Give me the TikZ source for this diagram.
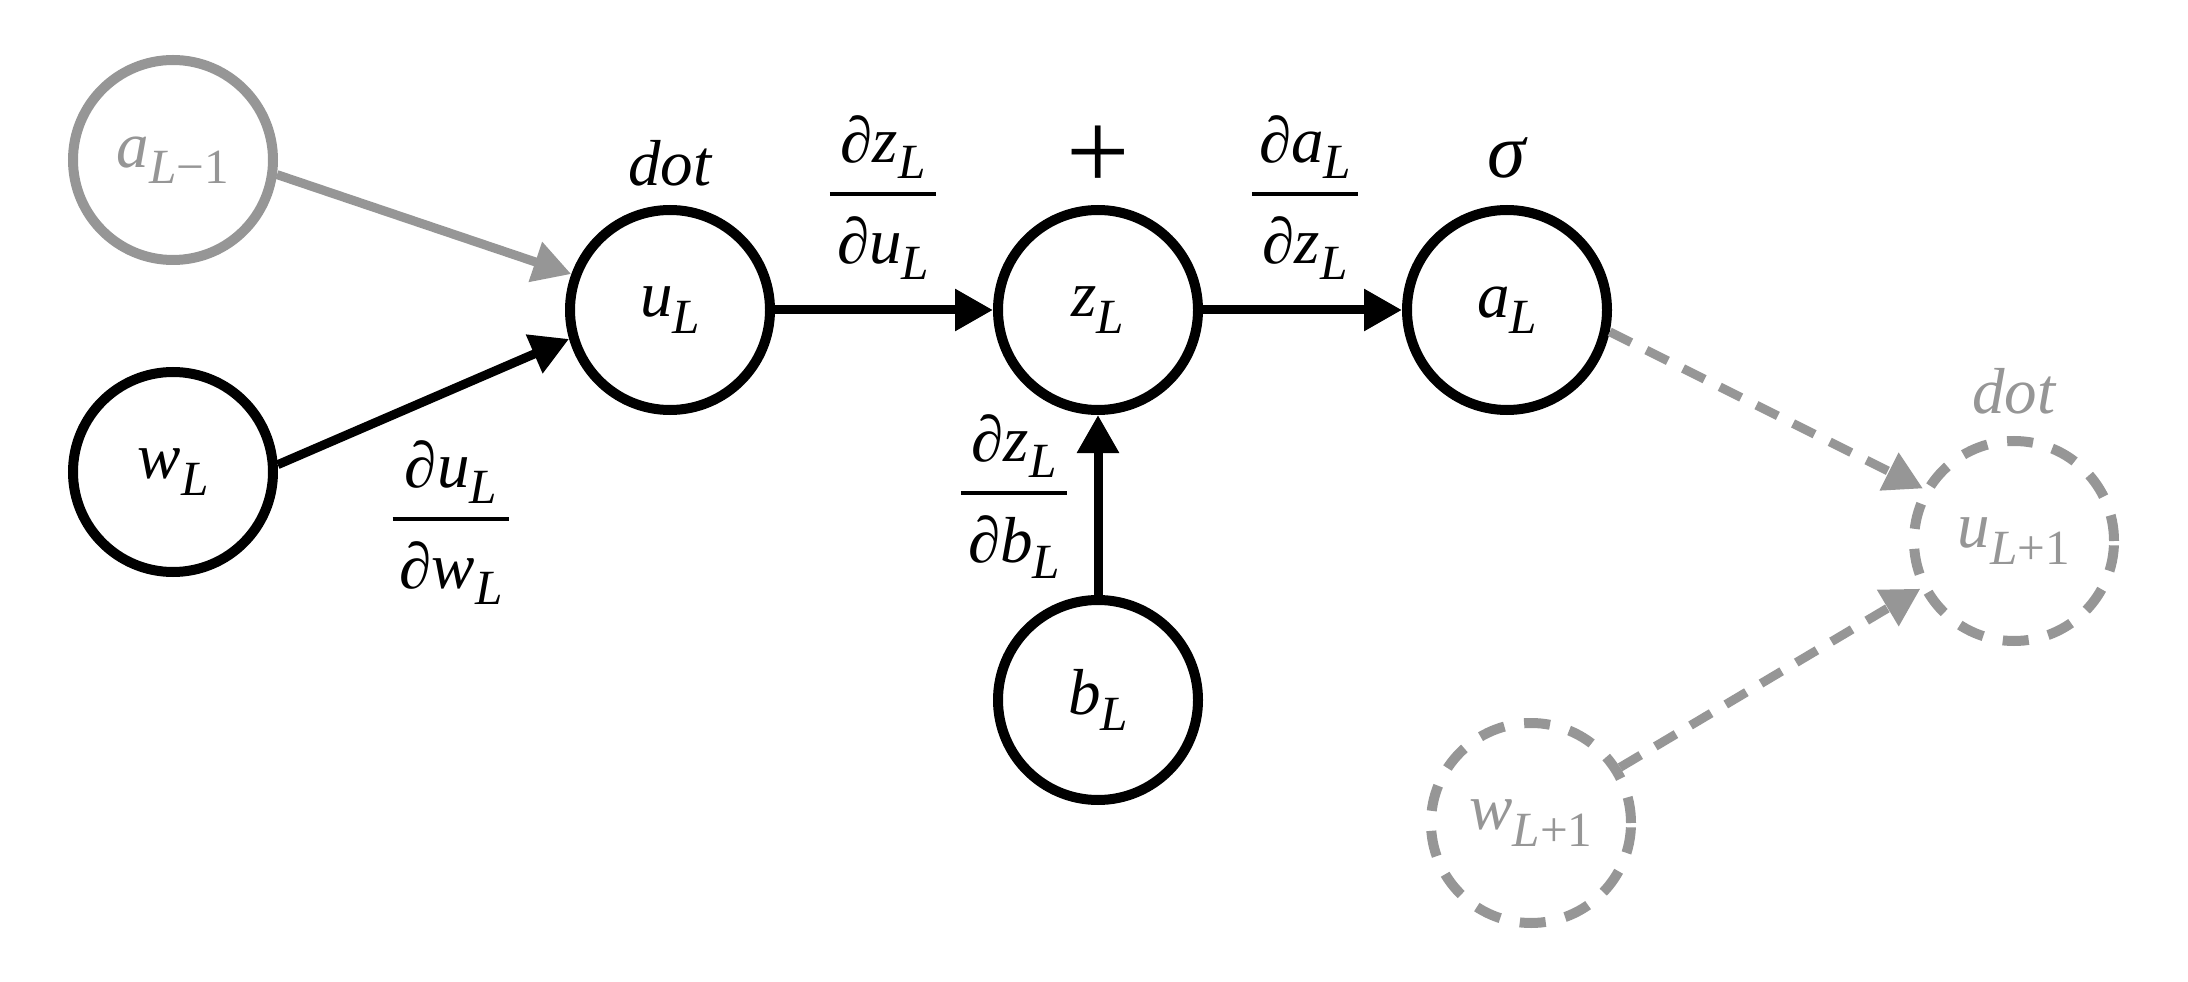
\documentclass[tikz,border=0pt]{standalone}
\usepackage{fontspec}
\setmainfont{Liberation Serif}
\usetikzlibrary{arrows.meta}
\definecolor{ghost}{RGB}{150,150,150}
\newcommand{\vsub}[2]{\textit{#1}\raisebox{-0.25em}{\fontsize{14}{16}\selectfont#2}}
\newcommand{\pfrac}[2]{{\setlength{\arrayrulewidth}{1.3pt}%
\begin{tabular}{@{\hspace{2pt}}c@{\hspace{2pt}}}#1\\[2pt]\hline\rule{0pt}{19pt}#2\end{tabular}}}
\begin{document}
\begin{tikzpicture}[
  var/.style={circle, draw, line width=0.1cm, minimum size=2cm, inner sep=0pt, font=\fontsize{18.5}{21}\selectfont},
  ghostvar/.style={var, draw=ghost, text=ghost},
  ghostdash/.style={ghostvar, dash pattern=on 0.26cm off 0.2cm},
  oplabel/.style={font=\fontsize{18.5}{21}\selectfont\itshape},
  gradlabel/.style={inner sep=0pt, font=\fontsize{18.5}{21}\selectfont},
  flow/.style={line width=0.09cm, -{Triangle[length=0.38cm,width=0.4cm]}},
  ghostflow/.style={flow, draw=ghost},
  ghostdashflow/.style={ghostflow, dash pattern=on 0.24cm off 0.17cm}
]
\useasboundingbox (0,0) rectangle (21.88,-9.82);
\node[ghostvar] (aprev) at (1.73,-1.60) {\vsub{a}{\textit{L}−1}};
\node[var] (wL) at (1.73,-4.72) {\vsub{w}{\textit{L}}};
\node[var] (uL) at (6.70,-3.10) {\vsub{u}{\textit{L}}};
\node[var] (zL) at (10.98,-3.10) {\vsub{z}{\textit{L}}};
\node[var] (aL) at (15.07,-3.10) {\vsub{a}{\textit{L}}};
\node[var] (bL) at (10.98,-7.00) {\vsub{b}{\textit{L}}};
\node[ghostdash] (unext) at (20.14,-5.41) {\vsub{u}{\textit{L}+1}};
\node[ghostdash] (wnext) at (15.31,-8.23) {\vsub{w}{\textit{L}+1}};

\node[oplabel] (dotL) at (6.70,-1.63) {dot};
\node[oplabel] (plusL) at (10.98,-1.58) {\upshape\fontsize{32}{34}\selectfont +};
\node[oplabel] (sigmaL) at (15.07,-1.58) {\fontsize{22}{24}\selectfont σ};
\node[oplabel, text=ghost] (dotnext) at (20.14,-3.91) {dot};

\node[gradlabel] (dzdu) at (8.83,-1.98) {\pfrac{∂\vsub{z}{\textit{L}}}{∂\vsub{u}{\textit{L}}}};
\node[gradlabel] (dadz) at (13.05,-1.98) {\pfrac{∂\vsub{a}{\textit{L}}}{∂\vsub{z}{\textit{L}}}};
\node[gradlabel] (dzdb) at (10.14,-4.97) {\pfrac{∂\vsub{z}{\textit{L}}}{∂\vsub{b}{\textit{L}}}};
\node[gradlabel] (dudw) at (4.51,-5.23) {\pfrac{∂\vsub{u}{\textit{L}}}{∂\vsub{w}{\textit{L}}}};

\draw[ghostflow] (aprev.-8) -- (uL.160);
\draw[flow] (wL.4) -- (uL.196);
\draw[flow] (uL) -- (zL);
\draw[flow] (zL) -- (aL);
\draw[flow] (bL) -- (zL);
\draw[ghostdashflow] (aL.-12) -- (unext.150);
\draw[ghostdashflow] (wnext.32) -- (unext.207);
\end{tikzpicture}
\end{document}
